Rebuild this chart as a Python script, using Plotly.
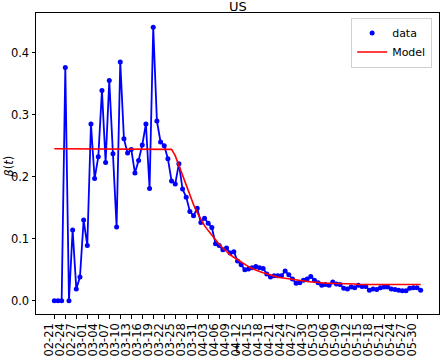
import pandas as pd
import plotly.graph_objects as go

start_date = "2020-02-21"
n_days = 101
dates = pd.date_range(start_date, periods=n_days).strftime("%Y-%m-%d").tolist()
tick_dates = dates[::3][:34]
tick_labels = [d[5:] for d in tick_dates]

beta_data = [
    0.000, 0.000, 0.000, 0.376, 0.000, 0.114, 0.019, 0.038, 0.130, 0.089,
    0.285, 0.197, 0.232, 0.339, 0.223, 0.355, 0.237, 0.119, 0.385, 0.261,
    0.238, 0.244, 0.206, 0.226, 0.251, 0.285, 0.181, 0.441, 0.290, 0.256,
    0.250, 0.229, 0.193, 0.188, 0.221, 0.180, 0.167, 0.144, 0.137, 0.149,
    0.126, 0.133, 0.125, 0.118, 0.092, 0.089, 0.082, 0.085, 0.077, 0.079,
    0.064, 0.058, 0.050, 0.051, 0.053, 0.055, 0.053, 0.052, 0.043, 0.038,
    0.040, 0.040, 0.040, 0.048, 0.042, 0.035, 0.028, 0.029, 0.033, 0.035,
    0.039, 0.033, 0.029, 0.025, 0.026, 0.025, 0.030, 0.027, 0.026, 0.020,
    0.019, 0.022, 0.021, 0.025, 0.023, 0.023, 0.017, 0.019, 0.018, 0.021,
    0.022, 0.022, 0.019, 0.018, 0.017, 0.016, 0.016, 0.020, 0.021, 0.021,
    0.017,
]

beta_model = [
    0.245, 0.245, 0.245, 0.245, 0.245, 0.245, 0.245, 0.245, 0.245, 0.245,
    0.245, 0.245, 0.245, 0.245, 0.245, 0.245, 0.245, 0.245, 0.245, 0.245,
    0.245, 0.245, 0.245, 0.245, 0.245, 0.245, 0.245, 0.245, 0.245, 0.245,
    0.245, 0.245, 0.244, 0.234, 0.218, 0.200, 0.184, 0.168, 0.155, 0.142,
    0.131, 0.121, 0.113, 0.105, 0.098, 0.091, 0.085, 0.079, 0.074, 0.070,
    0.066, 0.062, 0.058, 0.055, 0.052, 0.049, 0.047, 0.045, 0.043, 0.041,
    0.040, 0.038, 0.037, 0.036, 0.035, 0.034, 0.033, 0.032, 0.031, 0.031,
    0.030, 0.030, 0.029, 0.029, 0.028, 0.028, 0.028, 0.028, 0.027, 0.027,
    0.027, 0.027, 0.027, 0.026, 0.026, 0.026, 0.026, 0.026, 0.026, 0.026,
    0.026, 0.026, 0.026, 0.026, 0.026, 0.026, 0.026, 0.026, 0.026, 0.026,
    0.026,
]

title_text = "US"
ylabel_text = "<i>β</i>(<i>t</i>)"
xlabel_text = "t"
yticks = [0.0, 0.1, 0.2, 0.3, 0.4]
ytick_labels = ["0.0", "0.1", "0.2", "0.3", "0.4"]

FONT = "DejaVu Sans, Liberation Sans, sans-serif"

fig = go.Figure()
fig.add_trace(go.Scatter(x=dates, y=beta_data, mode="lines",
                         line=dict(color="blue", width=1.8),
                         showlegend=False, hoverinfo="skip"))
fig.add_trace(go.Scatter(x=dates, y=beta_data, mode="markers", name="data",
                         marker=dict(color="blue", size=5)))
fig.add_trace(go.Scatter(x=dates, y=beta_model, mode="lines", name="Model",
                         line=dict(color="red", width=1.6)))

fig.update_layout(
    width=440, height=358,
    margin=dict(l=36, r=1, t=13, b=44),
    paper_bgcolor="white", plot_bgcolor="white",
    font=dict(family=FONT, size=11.5, color="black"),
    showlegend=True,
    legend=dict(x=0.983, xanchor="right", y=0.985, yanchor="top",
                bgcolor="rgba(255,255,255,0.8)", bordercolor="#d0d0d0", borderwidth=1,
                font=dict(size=11, family=FONT), itemwidth=30,
                tracegroupgap=0),
)

fig.update_xaxes(
    type="date",
    range=["2020-02-16", "2020-06-05"],
    tickmode="array", tickvals=tick_dates, ticktext=tick_labels,
    tickangle=-90, ticks="outside", ticklen=3.5, tickwidth=0.8, tickcolor="black",
    ticklabelshift=-5,
    showline=True, linecolor="black", linewidth=1, mirror=True,
    showgrid=False, zeroline=False,
    tickfont=dict(size=11.5, family=FONT),
)
fig.update_yaxes(
    range=[-0.0215, 0.464],
    tickvals=yticks, ticktext=ytick_labels,
    ticks="outside", ticklen=3.5, tickwidth=0.8, tickcolor="black",
    showline=True, linecolor="black", linewidth=1, mirror=True,
    showgrid=False, zeroline=False,
    tickfont=dict(size=11.5, family=FONT),
)

fig.add_annotation(text=title_text, xref="paper", yref="paper",
                   x=0.5, y=1.021, xanchor="center", yanchor="middle",
                   showarrow=False,
                   font=dict(size=13, family=FONT, color="black"))
fig.add_annotation(text=ylabel_text, xref="paper", yref="paper",
                   x=-0.069, y=0.49, xanchor="center", yanchor="middle",
                   textangle=-90, showarrow=False,
                   font=dict(size=11.5, family=FONT, color="black"))
fig.add_annotation(text=xlabel_text, xref="paper", yref="paper",
                   x=0.5, y=-0.1462, xanchor="center", yanchor="bottom",
                   showarrow=False,
                   font=dict(size=11.5, family=FONT, color="black"))

fig.write_html("out.html")
